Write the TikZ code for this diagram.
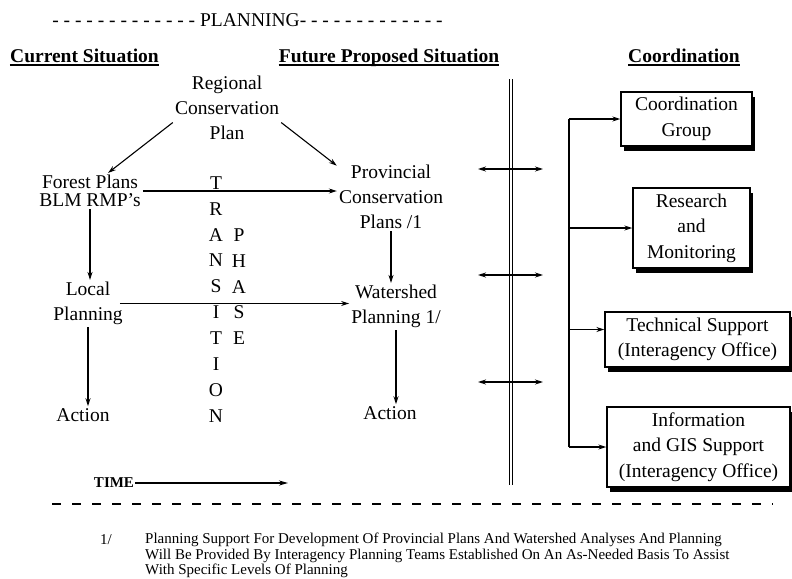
\documentclass[tikz,border=0pt]{standalone}
\usepackage{fontspec}
\setmainfont{Liberation Serif}
\usetikzlibrary{arrows.meta,shadows}
\newcommand\bigtxt{\fontsize{19.5}{25}\selectfont}
\newcommand\boxtxt{\fontsize{19.5}{25.5}\selectfont}
\newcommand\hdrtxt{\fontsize{19.5}{25}\selectfont\bfseries}
\newcommand\notetxt{\fontsize{15}{15.5}\selectfont}
\begin{document}
\begin{tikzpicture}[x=1pt,y=-1pt,
  txt/.style={font=\bigtxt, align=center, inner sep=2pt},
  hdr/.style={font=\hdrtxt, inner sep=0pt, text depth=0pt, anchor=south},
  arr/.style={-{Stealth[length=8pt,width=5pt]}, line width=1.1pt},
  darr/.style={{Stealth[length=8pt,width=5pt]}-{Stealth[length=8pt,width=5pt]}, line width=1.1pt},
  cbox/.style={draw, line width=1.4pt, fill=white, font=\boxtxt, align=center, inner sep=0pt,
    drop shadow={shadow xshift=3pt, shadow yshift=-5pt, fill=black, opacity=1}}]
\useasboundingbox (0,0) rectangle (792,578);
\node[font=\bigtxt] (plan) at (247.5,20) {- - - - - - - - - - - - - PLANNING- - - - - - - - - - - - -};
\node[hdr] (hcur) at (84.5,63) {Current Situation};
\node[hdr] (hfut) at (389,63) {Future Proposed Situation};
\node[hdr] (hcoo) at (684,63) {Coordination};
\foreach \n in {hcur,hfut,hcoo}
  \draw[line width=1.6pt] ([yshift=-2pt]\n.south west) -- ([yshift=-2pt]\n.south east);
% planning levels
\node[txt] (reg) at (227,108) {Regional\\Conservation\\Plan};
\node[txt] (forest) at (90,191) {Forest Plans\\[-7pt]BLM RMP's};
\node[txt] (prov) at (391,197) {Provincial\\Conservation\\Plans /1};
\node[txt] (local) at (88,303.5) {Local\\Planning};
\node[txt] (water) at (396,306.5) {Watershed\\Planning 1/};
\node[txt] (actl) at (83,415) {Action};
\node[txt] (actr) at (390,413) {Action};
\foreach \c [count=\i] in {T,R,A,N,S,I,T,I,O,N}
  \node[txt] (tr\i) at (216,157+25.9*\i) {\c};
\foreach \c [count=\i] in {P,H,A,S,E}
  \node[txt] (ph\i) at (239,209+25.9*\i) {\c};
\draw[arr] (reg.195) -- (forest.45);
\draw[arr] (reg.345) -- (prov.150);
\draw[arr] (forest.east) -- (forest.east -| prov.west);
\draw[arr] (forest.south) -- (forest.south |- local.north);
\draw[arr] ([xshift=-5pt]local.east) -- (local.east -| water.west);
\draw[arr] (local.south) -- (local.south |- actl.north);
\draw[arr] (prov.south) -- (prov.south |- water.north);
\draw[arr] (water.south) -- (water.south |- actr.north);
% time
\node[font=\fontsize{15}{18}\selectfont\bfseries, inner sep=1pt] (time) at (114,483) {TIME};
\coordinate (tend) at (288,483);
\draw[-{Stealth[length=9pt,width=5pt]}, line width=1.8pt] (time.east) -- (tend);
% divider
\coordinate (barT) at (511,79);
\coordinate (barB) at (511,485);
\draw[double, double distance=2.6pt, line width=0.8pt] (barT) -- (barB);
\foreach \y [count=\i] in {169,275,382} {
  \coordinate (xl\i) at (478,\y);
  \coordinate (xr\i) at (543,\y);
  \draw[darr] (xl\i) -- (xr\i);
}
% coordination
\node[cbox, minimum width=131, minimum height=54] (cg) at (686.5,119) {Coordination\\Group};
\node[cbox, minimum width=117, minimum height=80] (rm) at (691.5,228) {Research\\and\\Monitoring};
\node[cbox, minimum width=185, minimum height=55] (ts) at (697.5,339.5) {Technical Support\\(Interagency Office)};
\node[cbox, minimum width=183, minimum height=80] (gis) at (698.5,447) {Information\\and GIS Support\\(Interagency Office)};
\coordinate (tk) at (569,0);
\coordinate (tsin) at ([yshift=10pt]ts.west);
\draw[line width=1.1pt] (tk |- cg.west) -- (tk |- gis.west);
\foreach \n in {cg,rm,gis}
  \draw[arr] (tk |- \n.west) -- (\n.west);
\draw[arr] (tk |- tsin) -- (tsin);
% footnote
\draw[line width=2pt, dash pattern=on 9pt off 11pt] (52,504) -- (773,504);
\node[font=\notetxt, anchor=base west, inner sep=0pt] (fnum) at (100,544) {1/};
\node[font=\notetxt, anchor=north west, inner sep=0pt, align=left] (fnote) at (145,533)
  {Planning Support For Development Of Provincial Plans And Watershed Analyses And Planning\\
   Will Be Provided By Interagency Planning Teams Established On An As-Needed Basis To Assist\\
   With Specific Levels Of Planning};
\end{tikzpicture}
\end{document}
